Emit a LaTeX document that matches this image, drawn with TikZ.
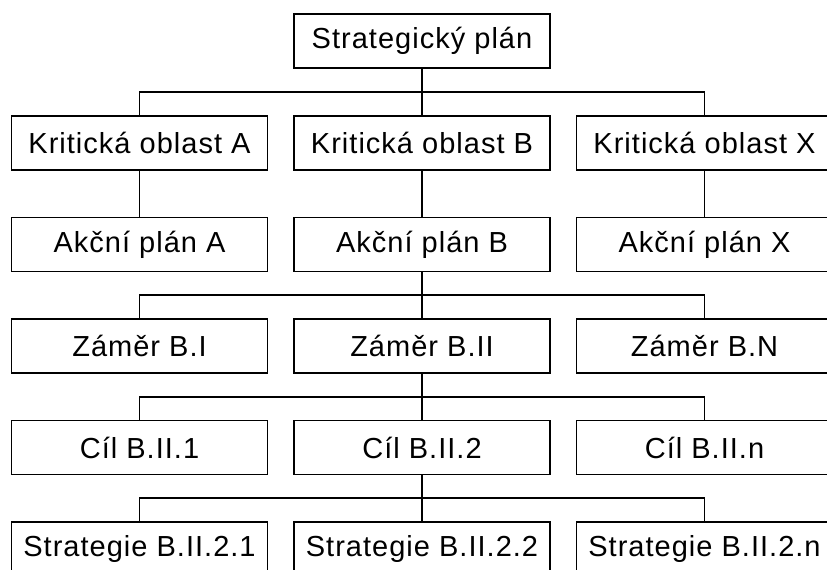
\documentclass[tikz,border=0pt]{standalone}
\usepackage{fontspec}
\setmainfont{Liberation Sans}[LetterSpace=3.5]
\usepackage{tikz}
\usetikzlibrary{calc}

\begin{document}
\begin{tikzpicture}[x=1pt,y=-1pt,
  box/.style={draw,line width=1.6pt,minimum width=256pt,minimum height=54pt,inner sep=0pt,font=\fontsize{29}{35}\selectfont},
  link/.style={line width=1.6pt}]
\clip (0,0) rectangle (827,570);
% rows of boxes
\node[box] (plan) at (422,41) {Strategický plán};
\node[box] (krA) at (139.5,143) {Kritická oblast A};
\node[box] (krB) at (422,143) {Kritická oblast B};
\node[box] (krX) at (704.5,143) {Kritická oblast X};
\node[box] (apA) at (139.5,244.5) {Akční plán A};
\node[box] (apB) at (422,244.5) {Akční plán B};
\node[box] (apX) at (704.5,244.5) {Akční plán X};
\node[box] (zamI) at (139.5,346) {Záměr B.I};
\node[box] (zamII) at (422,346) {Záměr B.II};
\node[box] (zamN) at (704.5,346) {Záměr B.N};
\node[box] (cil1) at (139.5,447.5) {Cíl B.II.1};
\node[box] (cil2) at (422,447.5) {Cíl B.II.2};
\node[box] (ciln) at (704.5,447.5) {Cíl B.II.n};
\node[box] (str1) at (139.5,549) {Strategie B.II.2.1};
\node[box] (str2) at (422,549) {Strategie B.II.2.2};
\node[box] (strn) at (704.5,549) {Strategie B.II.2.n};
% connectors
\draw[link] (plan.south) -- (krB.north);
\draw[link] (krA.north) |- ($(plan.south)!0.5!(krB.north)$) -| (krX.north);
\draw[link] (krA) -- (apA);
\draw[link] (krB) -- (apB);
\draw[link] (krX) -- (apX);
\draw[link] (apB.south) -- (zamII.north);
\draw[link] (zamI.north) |- ($(apB.south)!0.5!(zamII.north)$) -| (zamN.north);
\draw[link] (zamII.south) -- (cil2.north);
\draw[link] (cil1.north) |- ($(zamII.south)!0.5!(cil2.north)$) -| (ciln.north);
\draw[link] (cil2.south) -- (str2.north);
\draw[link] (str1.north) |- ($(cil2.south)!0.5!(str2.north)$) -| (strn.north);
\end{tikzpicture}
\end{document}
